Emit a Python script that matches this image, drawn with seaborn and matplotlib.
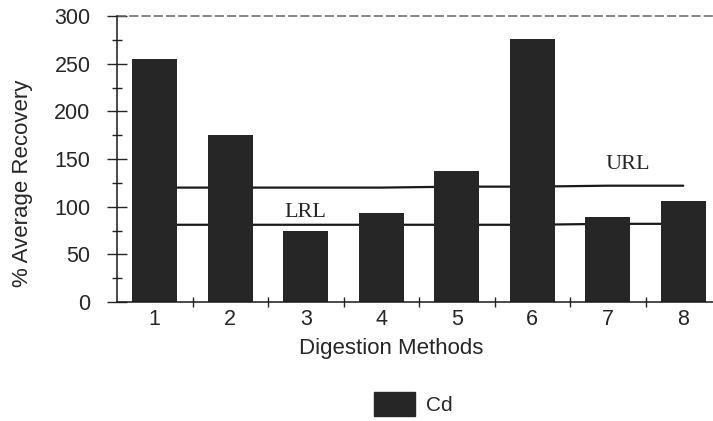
import matplotlib
matplotlib.use("Agg")
import matplotlib.pyplot as plt
import seaborn as sns
import pandas as pd
from matplotlib.patches import Patch
from matplotlib.ticker import MultipleLocator, FixedLocator

# data
methods = [1, 2, 3, 4, 5, 6, 7, 8]
recovery = [255, 175, 75, 93, 137, 276, 89, 106]
url_y = [120, 120, 120, 120, 121, 121, 122, 122]
lrl_y = [81, 81, 81, 81, 81, 81, 82, 82]

df = pd.DataFrame({"method": methods, "recovery": recovery})

sns.set_style("ticks")
plt.rcParams["font.family"] = ["Liberation Sans", "DejaVu Sans"]

fig = plt.figure(figsize=(7.13, 4.21), dpi=100)
ax = fig.add_axes([117 / 713, 1 - 302 / 421, 604 / 713, 286 / 421])

bar_color = "#262626"

# limit lines behind the bars
sns.lineplot(x=methods, y=url_y, ax=ax, color="#1a1a1a", lw=1.6, zorder=1)
sns.lineplot(x=methods, y=lrl_y, ax=ax, color="#1a1a1a", lw=1.6, zorder=1)

sns.barplot(data=df, x="method", y="recovery", native_scale=True,
            width=0.6, color=bar_color, saturation=1, ax=ax, zorder=2,
            edgecolor=bar_color, linewidth=0)

ax.text(3.0, 89, "LRL", family=["Liberation Serif"], fontsize=16,
        ha="center", va="baseline")
ax.text(7.26, 140, "URL", family=["Liberation Serif"], fontsize=16,
        ha="center", va="baseline")

ax.set_xlim(0.5, 8.5)
ax.set_ylim(0, 300)
ax.axhline(300, color="#666666", lw=1.1, ls=(0, (6, 2)), clip_on=False)

ax.xaxis.set_major_locator(FixedLocator(methods))
ax.xaxis.set_minor_locator(FixedLocator([m + 0.5 for m in methods[:-1]]))
ax.yaxis.set_major_locator(MultipleLocator(50))
ax.yaxis.set_minor_locator(MultipleLocator(25))
ax.tick_params(axis="x", which="major", length=0, labelsize=15.5, pad=5)
ax.tick_params(axis="x", which="minor", direction="inout", length=7, width=1)
ax.tick_params(axis="y", which="major", direction="inout", length=14, width=1,
               labelsize=15.5, pad=12)
ax.tick_params(axis="y", which="minor", direction="inout", length=7, width=1)

for s in ["top", "right"]:
    ax.spines[s].set_visible(False)
for s in ["left", "bottom"]:
    ax.spines[s].set_linewidth(1.1)
    ax.spines[s].set_color("#1a1a1a")

ax.set_xlabel("Digestion Methods", fontsize=16, va="top")
ax.xaxis.set_label_coords(0.454, -0.127)
ax.set_ylabel("% Average Recovery", fontsize=16)
ax.yaxis.set_label_coords(-0.139, 0.416)

fig.legend(handles=[Patch(color=bar_color, label="Cd")], loc="center",
           bbox_to_anchor=(413 / 713, 1 - 404 / 421), frameon=False,
           fontsize=15, handlelength=2.0, handleheight=1.4, handletextpad=0.5)

fig.savefig("out.png", dpi=100)
